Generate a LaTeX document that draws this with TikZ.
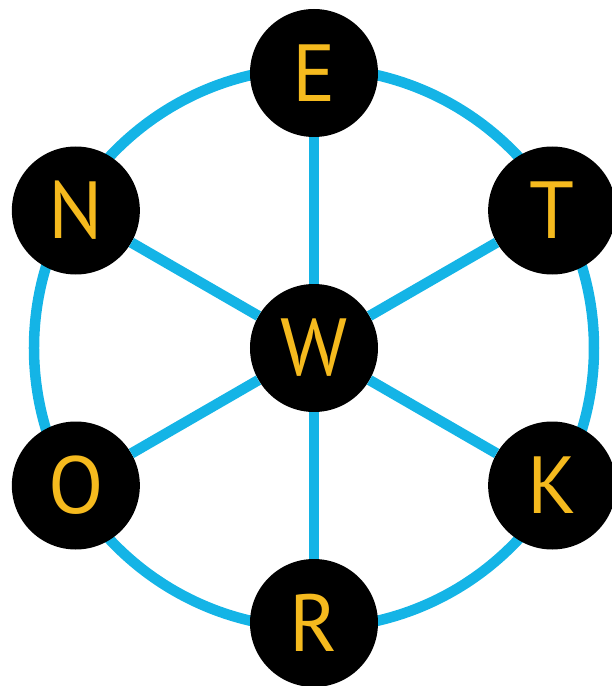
\documentclass[tikz,border=0pt]{standalone}
\usepackage{fontspec}
\setmainfont{PT Sans}
\definecolor{ringblue}{RGB}{20,180,230}
\definecolor{letteryellow}{RGB}{245,186,30}
\begin{document}
\begin{tikzpicture}[
  x=1pt, y=1pt,
  letter/.style={circle, fill=black, minimum size=128pt, inner sep=0pt,
    text=letteryellow, font=\fontsize{81}{81}\selectfont},
  link/.style={draw=ringblue, line width=10.5pt}
]
\useasboundingbox (-314,-338) rectangle (297,348);
\draw[link] (0,0) circle[radius=280];
\node[letter] (w) at (0,0) {W};
\foreach \name/\ang/\txt in {e/90/E, t/30/T, k/-30/K, r/-90/R, o/-150/O, n/150/N}
{
  \node[letter] (\name) at (\ang:275) {\txt};
  \draw[link] (w) -- (\name);
}
\end{tikzpicture}
\end{document}
